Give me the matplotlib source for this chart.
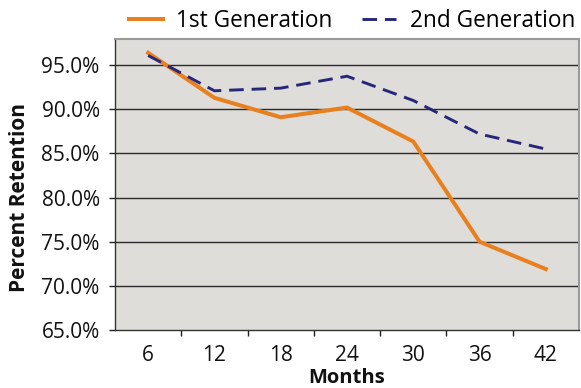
import matplotlib
matplotlib.use("Agg")
import matplotlib.pyplot as plt
from matplotlib.ticker import FuncFormatter, FixedLocator

# chart data
months = ["6", "12", "18", "24", "30", "36", "42"]
first_gen = [96.4, 91.3, 89.1, 90.2, 86.35, 75.0, 71.9]
second_gen = [96.1, 92.1, 92.4, 93.75, 91.0, 87.2, 85.5]
y_ticks = [65, 70, 75, 80, 85, 90, 95]

orange = "#E8801F"
navy = "#27277A"
plot_bg = "#DFDDD9"

plt.rcParams["font.family"] = ["Open Sans", "DejaVu Sans"]

fig = plt.figure(figsize=(5.81, 3.88), dpi=100, facecolor="white")
ax = fig.add_axes([115 / 581, 1 - 330 / 388, 464 / 581, (330 - 38.7) / 388])
ax.set_facecolor(plot_bg)

x = list(range(len(months)))
ax.plot(x, first_gen, color=orange, linewidth=2.9, solid_joinstyle="miter",
        label="1st Generation", zorder=3)
ax.plot(x, second_gen, color=navy, linewidth=2.1, dashes=(5.0, 2.7),
        label="2nd Generation", zorder=3)

ax.set_xlim(-0.5, len(months) - 0.5)
ax.set_ylim(65, 98)

# category axis: labels at centres, tick marks between categories
ax.set_xticks(x)
ax.set_xticklabels(months)
ax.xaxis.set_minor_locator(FixedLocator([i + 0.5 for i in range(len(months) - 1)]))
ax.tick_params(axis="x", which="major", length=0, pad=11, labelsize=15, colors="#111111")
ax.tick_params(axis="x", which="minor", length=4, width=1, color="#222222")

ax.set_yticks(y_ticks)
ax.yaxis.set_major_formatter(FuncFormatter(lambda v, p: f"{v:.1f}%"))
ax.tick_params(axis="y", length=4, width=1, pad=7, labelsize=15, colors="#111111")
ax.tick_params(axis="both", color="#222222")

for v in y_ticks[1:]:
    ax.axhline(v, color="#2a2a2a", linewidth=1.0, zorder=1)

for side in ["left", "bottom"]:
    ax.spines[side].set_color("#333333")
    ax.spines[side].set_linewidth(1.0)
for side in ["top", "right"]:
    ax.spines[side].set_color("#9a9a9a")
    ax.spines[side].set_linewidth(1.5)

fig.text(347 / 581, 1 - 378 / 388, "Months", ha="center", va="center",
         fontsize=14.5, fontweight="bold", color="#111111")
fig.text(20 / 581, 1 - 198 / 388, "Percent Retention", ha="center", va="center",
         rotation=90, fontsize=15, fontweight="bold", color="#111111")

fig.legend(loc="center", bbox_to_anchor=(352 / 581, 1 - 21 / 388), ncol=2,
           frameon=False, fontsize=16.3, handlelength=1.5, handletextpad=0.6,
           columnspacing=1.3, borderpad=0, borderaxespad=0)

fig.savefig("out.png", dpi=100, facecolor="white")
